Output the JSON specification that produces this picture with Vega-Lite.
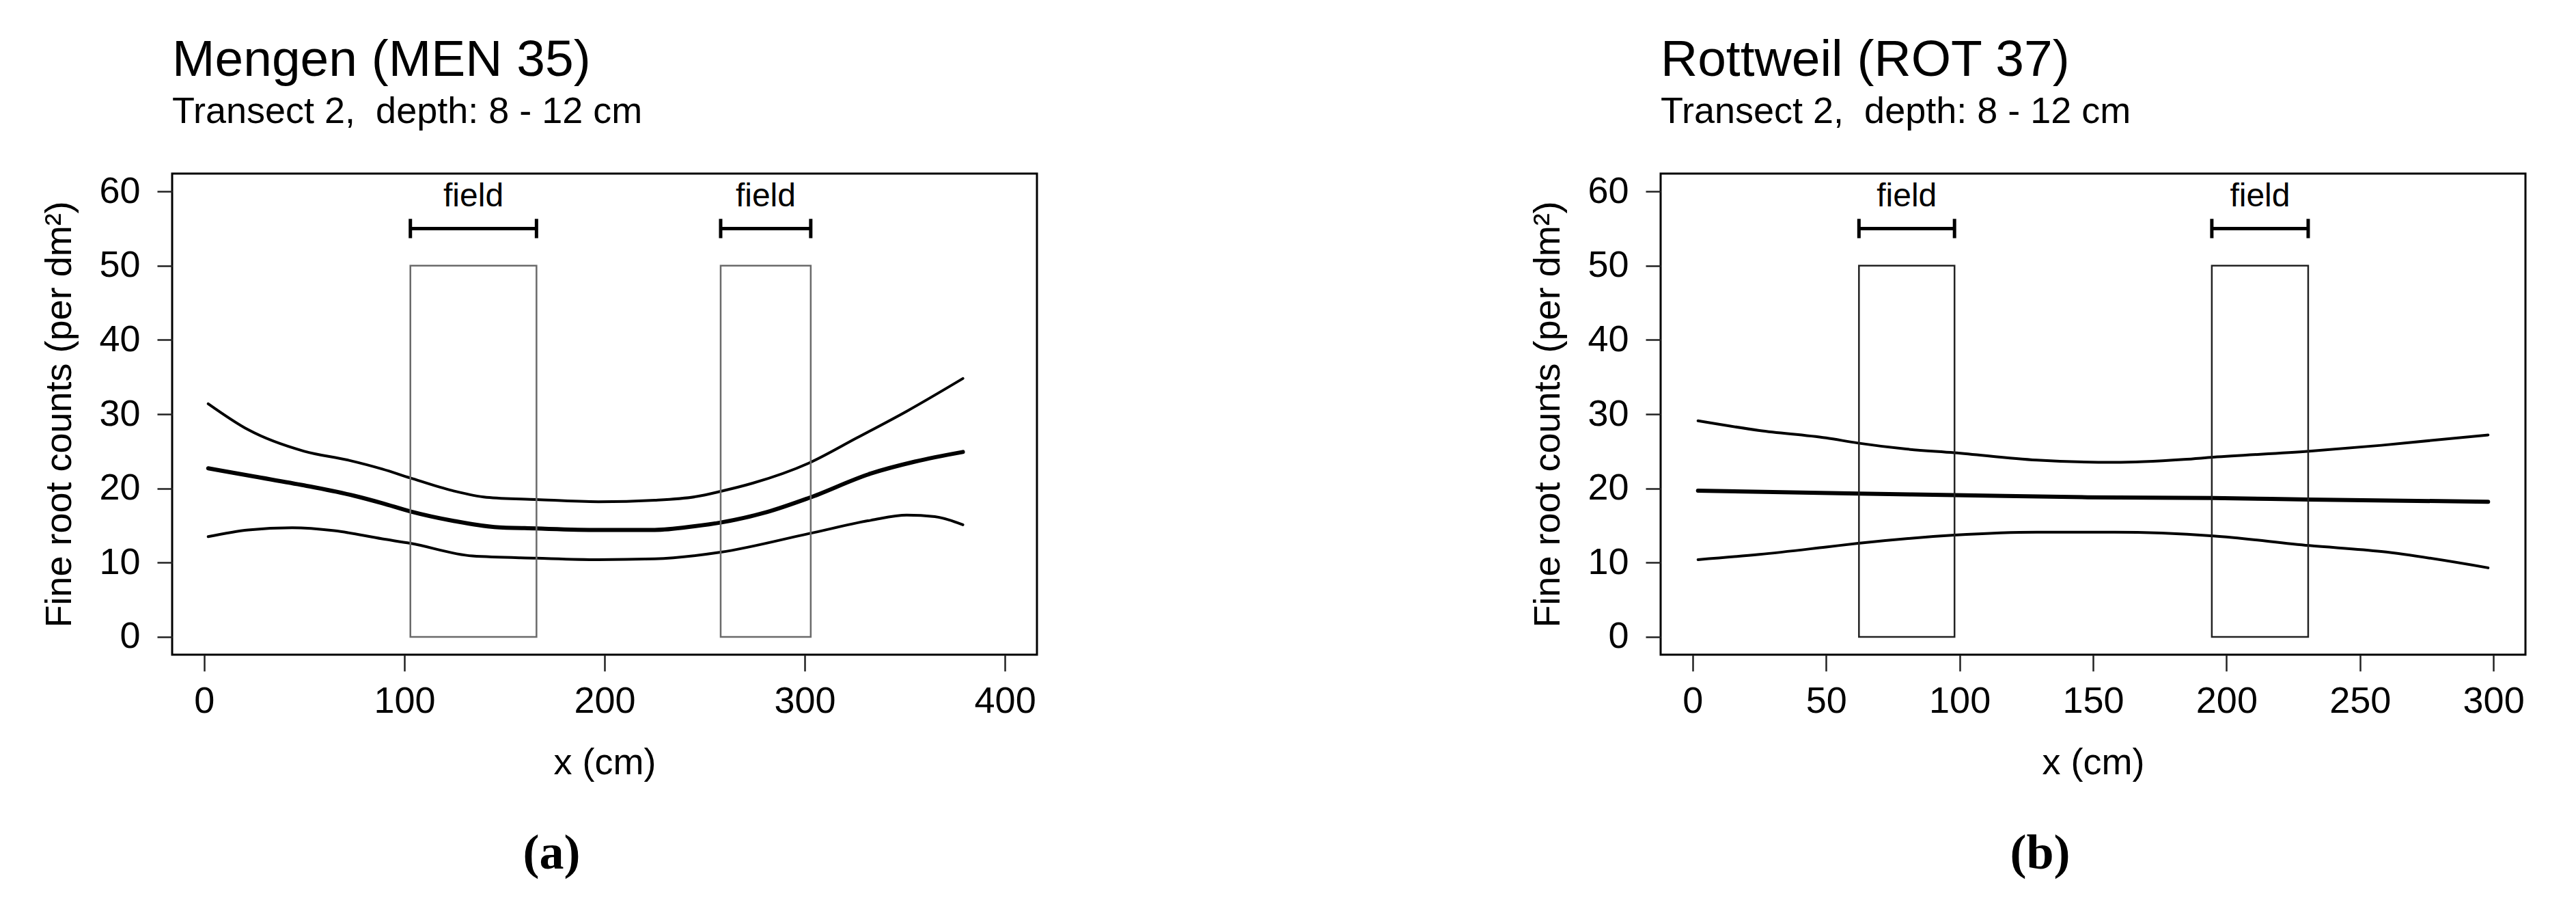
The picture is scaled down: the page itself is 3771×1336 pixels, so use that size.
{
  "$schema": "https://vega.github.io/schema/vega-lite/v6.json",
  "background": "white",
  "padding": {"left": 59, "top": 49, "right": 5, "bottom": 5},
  "config": {
    "view": {"stroke": "black", "strokeWidth": 3},
    "font": "Liberation Sans",
    "axis": {"domain": false, "grid": false, "tickColor": "#222", "tickWidth": 2.5, "labelFont": "Liberation Sans", "labelFontSize": 54, "labelColor": "black", "labelOverlap": false, "labelFlush": false, "titleFont": "Liberation Sans", "titleFontSize": 54, "titleFontWeight": "normal", "titleColor": "black"},
    "axisX": {"tickSize": 24, "labelPadding": 17, "titlePadding": 36},
    "axisY": {"tickSize": 22, "labelPadding": 25, "titlePadding": 30},
    "title": {"font": "Liberation Sans", "color": "black", "subtitleColor": "black", "subtitleFont": "Liberation Sans"}
  },
  "datasets": {
    "menLines": [
      {"series": "upper", "x": 2, "count": 31.4}, {"series": "upper", "x": 22, "count": 27.9}, {"series": "upper", "x": 50, "count": 25.0}, {"series": "upper", "x": 72, "count": 23.8}, {"series": "upper", "x": 89, "count": 22.6}, {"series": "upper", "x": 103, "count": 21.4}, {"series": "upper", "x": 124, "count": 19.7}, {"series": "upper", "x": 141, "count": 18.8}, {"series": "upper", "x": 166, "count": 18.5}, {"series": "upper", "x": 197, "count": 18.2}, {"series": "upper", "x": 225, "count": 18.4}, {"series": "upper", "x": 246, "count": 18.9}, {"series": "upper", "x": 258, "count": 19.6}, {"series": "upper", "x": 274, "count": 20.7}, {"series": "upper", "x": 302, "count": 23.4}, {"series": "upper", "x": 326, "count": 26.8}, {"series": "upper", "x": 351, "count": 30.4}, {"series": "upper", "x": 379, "count": 34.8},
      {"series": "fit", "x": 2, "count": 22.7}, {"series": "fit", "x": 25, "count": 21.6}, {"series": "fit", "x": 50, "count": 20.4}, {"series": "fit", "x": 75, "count": 19.0}, {"series": "fit", "x": 89, "count": 18.0}, {"series": "fit", "x": 103, "count": 16.9}, {"series": "fit", "x": 125, "count": 15.6}, {"series": "fit", "x": 145, "count": 14.8}, {"series": "fit", "x": 166, "count": 14.6}, {"series": "fit", "x": 197, "count": 14.4}, {"series": "fit", "x": 225, "count": 14.4}, {"series": "fit", "x": 245, "count": 14.9}, {"series": "fit", "x": 258, "count": 15.4}, {"series": "fit", "x": 281, "count": 16.8}, {"series": "fit", "x": 302, "count": 18.7}, {"series": "fit", "x": 333, "count": 22.0}, {"series": "fit", "x": 355, "count": 23.6}, {"series": "fit", "x": 379, "count": 24.9},
      {"series": "lower", "x": 2, "count": 13.5}, {"series": "lower", "x": 22, "count": 14.4}, {"series": "lower", "x": 44, "count": 14.7}, {"series": "lower", "x": 65, "count": 14.3}, {"series": "lower", "x": 89, "count": 13.2}, {"series": "lower", "x": 103, "count": 12.6}, {"series": "lower", "x": 134, "count": 10.9}, {"series": "lower", "x": 166, "count": 10.6}, {"series": "lower", "x": 197, "count": 10.4}, {"series": "lower", "x": 225, "count": 10.5}, {"series": "lower", "x": 258, "count": 11.4}, {"series": "lower", "x": 302, "count": 13.9}, {"series": "lower", "x": 333, "count": 15.7}, {"series": "lower", "x": 351, "count": 16.4}, {"series": "lower", "x": 365, "count": 16.2}, {"series": "lower", "x": 379, "count": 15.1}
    ],
    "menFields": [
      {"start": 103, "end": 166, "mid": 134.5},
      {"start": 258, "end": 303, "mid": 280.5}
    ],
    "rotLines": [
      {"series": "upper", "x": 2, "count": 29.1}, {"series": "upper", "x": 25, "count": 27.8}, {"series": "upper", "x": 50, "count": 26.8}, {"series": "upper", "x": 62, "count": 26.1}, {"series": "upper", "x": 80, "count": 25.3}, {"series": "upper", "x": 98, "count": 24.8}, {"series": "upper", "x": 129, "count": 23.8}, {"series": "upper", "x": 158, "count": 23.5}, {"series": "upper", "x": 184, "count": 23.9}, {"series": "upper", "x": 195, "count": 24.2}, {"series": "upper", "x": 231, "count": 25.0}, {"series": "upper", "x": 258, "count": 25.8}, {"series": "upper", "x": 298, "count": 27.2},
      {"series": "fit", "x": 2, "count": 19.7}, {"series": "fit", "x": 62, "count": 19.3}, {"series": "fit", "x": 98, "count": 19.1}, {"series": "fit", "x": 148, "count": 18.8}, {"series": "fit", "x": 195, "count": 18.7}, {"series": "fit", "x": 231, "count": 18.5}, {"series": "fit", "x": 298, "count": 18.2},
      {"series": "lower", "x": 2, "count": 10.4}, {"series": "lower", "x": 25, "count": 11.1}, {"series": "lower", "x": 50, "count": 12.1}, {"series": "lower", "x": 62, "count": 12.6}, {"series": "lower", "x": 98, "count": 13.7}, {"series": "lower", "x": 129, "count": 14.1}, {"series": "lower", "x": 158, "count": 14.1}, {"series": "lower", "x": 195, "count": 13.6}, {"series": "lower", "x": 231, "count": 12.3}, {"series": "lower", "x": 258, "count": 11.5}, {"series": "lower", "x": 298, "count": 9.3}
    ],
    "rotFields": [
      {"start": 62.3, "end": 98.1, "mid": 80.2},
      {"start": 194.5, "end": 230.6, "mid": 212.55}
    ]
  },
  "spacing": 718,
  "hconcat": [
    {
      "title": {"text": "(a)", "orient": "bottom", "anchor": "middle", "font": "Liberation Serif", "fontSize": 72, "fontWeight": "bold", "offset": 69, "dx": 18},
      "vconcat": [
        {
          "width": 1266,
          "height": 704,
          "title": {"text": "Mengen (MEN 35)", "subtitle": "Transect 2,\u00a0 depth: 8 - 12 cm", "anchor": "start", "frame": "group", "fontSize": 75, "fontWeight": "normal", "subtitleFontSize": 54, "subtitlePadding": 10, "offset": 61},
          "layer": [
            {
              "data": {"name": "menLines"},
              "transform": [{"filter": "datum.series !== 'fit'"}],
              "mark": {"type": "line", "interpolate": "monotone", "color": "black", "strokeWidth": 4, "strokeCap": "round", "strokeJoin": "round"},
              "encoding": {
                "x": {"field": "x", "type": "quantitative", "scale": {"domain": [-16, 416], "nice": false, "zero": false}, "axis": {"values": [0, 100, 200, 300, 400], "title": "x (cm)"}},
                "y": {"field": "count", "type": "quantitative", "scale": {"domain": [-2.4, 62.4], "nice": false, "zero": false}, "axis": {"values": [0, 10, 20, 30, 40, 50, 60], "title": "Fine root counts (per dm²)"}},
                "detail": {"field": "series", "type": "nominal"}
              }
            },
            {
              "data": {"name": "menLines"},
              "transform": [{"filter": "datum.series === 'fit'"}],
              "mark": {"type": "line", "interpolate": "monotone", "color": "black", "strokeWidth": 6, "strokeCap": "round", "strokeJoin": "round"},
              "encoding": {
                "x": {"field": "x", "type": "quantitative", "axis": {"values": [0, 100, 200, 300, 400], "title": "x (cm)"}},
                "y": {"field": "count", "type": "quantitative", "axis": {"values": [0, 10, 20, 30, 40, 50, 60], "title": "Fine root counts (per dm²)"}}
              }
            },
            {
              "data": {"name": "menFields"},
              "mark": {"type": "rect", "fillOpacity": 0, "stroke": "#6a6a6a", "strokeWidth": 2.5},
              "encoding": {
                "x": {"field": "start", "type": "quantitative", "axis": {"values": [0, 100, 200, 300, 400], "title": "x (cm)"}},
                "x2": {"field": "end"},
                "y": {"datum": 0, "type": "quantitative", "axis": {"values": [0, 10, 20, 30, 40, 50, 60], "title": "Fine root counts (per dm²)"}},
                "y2": {"datum": 50}
              }
            },
            {
              "data": {"name": "menFields"},
              "mark": {"type": "rule", "color": "black", "strokeWidth": 5},
              "encoding": {
                "x": {"field": "start", "type": "quantitative", "axis": {"values": [0, 100, 200, 300, 400], "title": "x (cm)"}},
                "x2": {"field": "end"},
                "y": {"datum": 55, "type": "quantitative", "axis": {"values": [0, 10, 20, 30, 40, 50, 60], "title": "Fine root counts (per dm²)"}}
              }
            },
            {
              "data": {"name": "menFields"},
              "transform": [{"fold": ["start", "end"], "as": ["edge", "pos"]}],
              "mark": {"type": "rule", "color": "black", "strokeWidth": 5},
              "encoding": {
                "x": {"field": "pos", "type": "quantitative", "axis": {"values": [0, 100, 200, 300, 400], "title": "x (cm)"}},
                "y": {"datum": 53.7, "type": "quantitative", "axis": {"values": [0, 10, 20, 30, 40, 50, 60], "title": "Fine root counts (per dm²)"}},
                "y2": {"datum": 56.3}
              }
            },
            {
              "data": {"name": "menFields"},
              "mark": {"type": "text", "text": "field", "font": "Liberation Sans", "fontSize": 48, "baseline": "alphabetic", "align": "center", "color": "black"},
              "encoding": {
                "x": {"field": "mid", "type": "quantitative", "axis": {"values": [0, 100, 200, 300, 400], "title": "x (cm)"}},
                "y": {"datum": 58, "type": "quantitative", "axis": {"values": [0, 10, 20, 30, 40, 50, 60], "title": "Fine root counts (per dm²)"}}
              }
            }
          ]
        }
      ]
    },
    {
      "title": {"text": "(b)", "orient": "bottom", "anchor": "middle", "font": "Liberation Serif", "fontSize": 72, "fontWeight": "bold", "offset": 69, "dx": 18},
      "vconcat": [
        {
          "width": 1266,
          "height": 704,
          "title": {"text": "Rottweil (ROT 37)", "subtitle": "Transect 2,\u00a0 depth: 8 - 12 cm", "anchor": "start", "frame": "group", "fontSize": 75, "fontWeight": "normal", "subtitleFontSize": 54, "subtitlePadding": 10, "offset": 61},
          "layer": [
            {
              "data": {"name": "rotLines"},
              "transform": [{"filter": "datum.series !== 'fit'"}],
              "mark": {"type": "line", "interpolate": "monotone", "color": "black", "strokeWidth": 4, "strokeCap": "round", "strokeJoin": "round"},
              "encoding": {
                "x": {"field": "x", "type": "quantitative", "scale": {"domain": [-12, 312], "nice": false, "zero": false}, "axis": {"values": [0, 50, 100, 150, 200, 250, 300], "title": "x (cm)"}},
                "y": {"field": "count", "type": "quantitative", "scale": {"domain": [-2.4, 62.4], "nice": false, "zero": false}, "axis": {"values": [0, 10, 20, 30, 40, 50, 60], "title": "Fine root counts (per dm²)"}},
                "detail": {"field": "series", "type": "nominal"}
              }
            },
            {
              "data": {"name": "rotLines"},
              "transform": [{"filter": "datum.series === 'fit'"}],
              "mark": {"type": "line", "interpolate": "monotone", "color": "black", "strokeWidth": 6, "strokeCap": "round", "strokeJoin": "round"},
              "encoding": {
                "x": {"field": "x", "type": "quantitative", "axis": {"values": [0, 50, 100, 150, 200, 250, 300], "title": "x (cm)"}},
                "y": {"field": "count", "type": "quantitative", "axis": {"values": [0, 10, 20, 30, 40, 50, 60], "title": "Fine root counts (per dm²)"}}
              }
            },
            {
              "data": {"name": "rotFields"},
              "mark": {"type": "rect", "fillOpacity": 0, "stroke": "#222222", "strokeWidth": 2.5},
              "encoding": {
                "x": {"field": "start", "type": "quantitative", "axis": {"values": [0, 50, 100, 150, 200, 250, 300], "title": "x (cm)"}},
                "x2": {"field": "end"},
                "y": {"datum": 0, "type": "quantitative", "axis": {"values": [0, 10, 20, 30, 40, 50, 60], "title": "Fine root counts (per dm²)"}},
                "y2": {"datum": 50}
              }
            },
            {
              "data": {"name": "rotFields"},
              "mark": {"type": "rule", "color": "black", "strokeWidth": 5},
              "encoding": {
                "x": {"field": "start", "type": "quantitative", "axis": {"values": [0, 50, 100, 150, 200, 250, 300], "title": "x (cm)"}},
                "x2": {"field": "end"},
                "y": {"datum": 55, "type": "quantitative", "axis": {"values": [0, 10, 20, 30, 40, 50, 60], "title": "Fine root counts (per dm²)"}}
              }
            },
            {
              "data": {"name": "rotFields"},
              "transform": [{"fold": ["start", "end"], "as": ["edge", "pos"]}],
              "mark": {"type": "rule", "color": "black", "strokeWidth": 5},
              "encoding": {
                "x": {"field": "pos", "type": "quantitative", "axis": {"values": [0, 50, 100, 150, 200, 250, 300], "title": "x (cm)"}},
                "y": {"datum": 53.7, "type": "quantitative", "axis": {"values": [0, 10, 20, 30, 40, 50, 60], "title": "Fine root counts (per dm²)"}},
                "y2": {"datum": 56.3}
              }
            },
            {
              "data": {"name": "rotFields"},
              "mark": {"type": "text", "text": "field", "font": "Liberation Sans", "fontSize": 48, "baseline": "alphabetic", "align": "center", "color": "black"},
              "encoding": {
                "x": {"field": "mid", "type": "quantitative", "axis": {"values": [0, 50, 100, 150, 200, 250, 300], "title": "x (cm)"}},
                "y": {"datum": 58, "type": "quantitative", "axis": {"values": [0, 10, 20, 30, 40, 50, 60], "title": "Fine root counts (per dm²)"}}
              }
            }
          ]
        }
      ]
    }
  ]
}
